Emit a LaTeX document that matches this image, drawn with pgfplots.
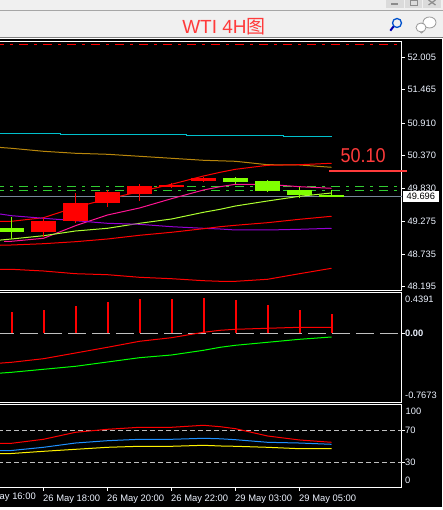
\documentclass[border=0pt]{standalone}
\usepackage{fontspec}
\setmainfont{Liberation Sans}
\newfontfamily\cjk{Noto Sans CJK SC}
\usepackage{pgfplots}
\pgfplotsset{compat=1.18}
\definecolor{lbl}{HTML}{EEF4FF}
\definecolor{chrome}{HTML}{F0F0F0}
\definecolor{ttl}{HTML}{FF3B3B}
\definecolor{cyanl}{HTML}{00C0CC}
\definecolor{gold}{HTML}{B8860B}
\definecolor{pinkl}{HTML}{FF1493}
\definecolor{lime}{HTML}{ADFF2F}
\definecolor{bull}{HTML}{7FFF00}
\definecolor{viol}{HTML}{9400D3}
\definecolor{slate}{HTML}{778899}
\definecolor{dashg}{HTML}{32CD32}
\definecolor{dodger}{HTML}{1E90FF}
\pgfplotsset{mt/.style={
  scale only axis, width=403.5pt, xmin=-0.4219, xmax=12.1875,
  axis line style={white,line width=0.9pt}, tick style={white,line width=0.9pt},
  major tick length=3.5pt, tick align=outside,
  ytick pos=right, yticklabel pos=right, xtick pos=bottom, xticklabel pos=bottom,
  xtick=\empty,
  tick label style={font=\fontsize{9.3}{10}\selectfont, text=lbl},
  yticklabel style={anchor=west, inner sep=0pt},
}}
\newcommand{\candle}[6]{%
  \addplot[#6,line width=1pt] coordinates {(#1,#2)(#1,#5)};
  \addplot[#6,line width=25pt] coordinates {(#1,#3)(#1,#4)};
}
\begin{document}
\begin{tikzpicture}
\path[use as bounding box] (0,0) rectangle (443pt,510pt);
\clip (0,0) rectangle (443pt,510pt);
\fill[white] (0,0) rectangle (443pt,510pt);
% window chrome
\fill[chrome] (0,472pt) rectangle (443pt,510pt);
\fill[gray!70] (0,499pt) rectangle (443pt,500pt);
\fill[gray] (0,471.5pt) rectangle (443pt,473pt);
\fill[black] (0,2.5pt) rectangle (441.5pt,470.8pt);
\fill[black!14] (386pt,501.5pt) rectangle (404pt,510pt);
\fill[black!14] (405pt,501.5pt) rectangle (422pt,510pt);
\fill[black!14] (423pt,501.5pt) rectangle (441pt,510pt);
\fill[gray!90] (391pt,505pt) rectangle (398pt,506.5pt);
\draw[gray!90,line width=0.8pt] (410pt,505pt) rectangle (417pt,509.5pt);
\draw[gray!90,line width=1.2pt] (428.5pt,505pt) -- (435.5pt,510pt) (435.5pt,505pt) -- (428.5pt,510pt);
% icons
\draw[blue!60!cyan!80!black,line width=1.3pt] (397pt,487pt) circle (4.5pt);
\draw[blue!70!black,line width=2pt] (393.6pt,483.6pt) -- (390.3pt,479.3pt);
\filldraw[fill=white,draw=gray!80,line width=0.8pt] (429.5pt,487.5pt) ellipse (6.5pt and 5.5pt);
\filldraw[fill=white,draw=gray!80,line width=0.8pt] (421pt,482.5pt) ellipse (5pt and 4.5pt);
\draw[gray!80,line width=0.8pt] (420.5pt,478pt) -- (421.5pt,477pt) -- (423.5pt,478.5pt);
\node[text=ttl,font=\fontsize{19}{20}\selectfont,inner sep=0pt] at (224pt,483pt) {WTI 4H{\cjk 图}};

% ---------- main price panel
\begin{axis}[mt, at={(-2pt,220pt)}, anchor=south west, height=248.5pt,
  ymin=48.1403, ymax=52.2621, clip=false,
  ytick={48.195,48.735,49.275,49.830,50.370,50.910,51.465,52.005},
  yticklabels={48.195,48.735,49.275,49.830,50.370,50.910,51.465,52.005},
  yticklabel style={xshift=2.3pt}]
% level lines
\addplot[red,line width=1pt,dash pattern=on 9pt off 6pt on 3.3pt off 5.7pt,dash phase=3pt] coordinates {(-0.4219,52.2135)(12.04,52.2135)};
\addplot[dashg,line width=1pt,dash pattern=on 9pt off 6pt on 3.3pt off 5.7pt,dash phase=3pt] coordinates {(-0.4219,49.8537)(12.04,49.8537)};
\addplot[dashg,line width=1pt,dash pattern=on 9pt off 6pt on 3.3pt off 5.7pt,dash phase=3pt] coordinates {(-0.4219,49.7940)(12.04,49.7940)};
\addplot[slate,line width=1pt] coordinates {(-0.4219,49.696)(12.1875,49.696)};
% cyan
\addplot[cyanl,line width=1pt] coordinates {(-0.4219,50.7395)(1.52,50.7395)(1.52,50.7229)(5.48,50.7229)(5.48,50.7063)(8.5,50.7063)(8.5,50.6897)(10,50.6897)};
% gold
\addplot[gold,line width=1pt] coordinates {(-0.4219,50.5072)(0,50.4906)(1,50.4409)(2,50.4077)(3,50.3911)(4,50.3580)(5,50.3248)(6,50.2916)(7,50.2750)(8,50.2186)(9,50.2136)(10,50.1755)};
% red MA
\addplot[red,line width=1pt] coordinates {(-0.4219,49.2798)(0,49.2798)(1,49.3395)(2,49.5120)(3,49.6497)(4,49.7708)(5,49.8935)(6,50.0312)(6.52,50.0926)(7,50.1423)(8,50.2087)(9,50.2186)(10,50.2419)};
% pink
\addplot[pinkl,line width=1pt] coordinates {(-0.23,48.9481)(0,48.9481)(1,48.9978)(2,49.2068)(3,49.3843)(4,49.5004)(5,49.6547)(6,49.7990)(6.52,49.8537)(7,49.8935)(8,49.8935)(9,49.8537)(10,49.8272)};
% lime
\addplot[lime,line width=1pt] coordinates {(-0.4219,48.9646)(0,48.9862)(1,49.0409)(2,49.1189)(3,49.1637)(4,49.2466)(5,49.3179)(6,49.4291)(6.52,49.4788)(7,49.5336)(8,49.6165)(9,49.6945)(10,49.7492)};
% violet
\addplot[viol,line width=1pt] coordinates {(-0.4219,49.4059)(0,49.3727)(1,49.3296)(2,49.2897)(3,49.2466)(4,49.2300)(5,49.1902)(6,49.1637)(6.52,49.1521)(7,49.1355)(8,49.1355)(9,49.1471)(10,49.1637)};
% band
\addplot[red,line width=1pt] coordinates {(-0.4219,48.8817)(0,48.8867)(1,48.9082)(2,48.9414)(3,48.9862)(4,49.0476)(5,49.0973)(6,49.1570)(6.52,49.1902)(7,49.2135)(8,49.2566)(9,49.3130)(10,49.3627)};
% lower band
\addplot[red,line width=1pt] coordinates {(-0.4219,48.4836)(0,48.4836)(1,48.4554)(2,48.4106)(3,48.3940)(4,48.3509)(5,48.3277)(6,48.2945)(6.52,48.2845)(7,48.2845)(8,48.3178)(9,48.4106)(10,48.5002)};
% candles: x, low, body low, body high, high
\candle{0}{48.984}{49.102}{49.169}{49.349}{bull}
\candle{1}{49.026}{49.102}{49.284}{49.334}{red}
\candle{2}{49.250}{49.284}{49.583}{49.745}{red}
\candle{3}{49.517}{49.583}{49.766}{49.799}{red}
\candle{4}{49.617}{49.733}{49.865}{49.898}{red}
\candle{5}{49.832}{49.845}{49.882}{49.915}{red}
\candle{6}{49.932}{49.948}{49.998}{50.020}{red}
\candle{7}{49.899}{49.932}{49.998}{50.020}{bull}
\candle{8}{49.766}{49.783}{49.948}{49.965}{bull}
\candle{9}{49.667}{49.716}{49.799}{49.849}{bull}
\candle{10}{49.683}{49.683}{49.721}{49.799}{bull}
% 50.10 level marker
\addplot[ttl,line width=1.8pt] coordinates {(9.922,50.119)(12.36,50.119)};
\end{axis}

% ---------- oscillator panel
\begin{axis}[mt, at={(-2pt,108pt)}, anchor=south west, height=109.3pt,
  ymin=-0.7660, ymax=0.4527,
  ytick={0}, yticklabels={\textbf{0.00}}, yticklabel style={xshift=0pt}]
\addplot[black!25,line width=1pt,dash pattern=on 18pt off 6pt,dash phase=2pt] coordinates {(-0.4219,0)(12.1875,0)};
\addplot[red,line width=1pt] coordinates {(-0.4219,-0.3345)(0,-0.3234)(1,-0.2832)(2,-0.2197)(3,-0.1561)(4,-0.0892)(5,-0.0491)(6,0.0112)(6.52,0.0335)(7,0.0446)(8,0.0558)(9,0.0669)(10,0.0669)};
\addplot[green,line width=1pt] coordinates {(-0.4219,-0.4460)(0,-0.4349)(1,-0.4014)(2,-0.3680)(3,-0.3200)(4,-0.2721)(5,-0.2420)(6,-0.1896)(6.52,-0.1561)(7,-0.1338)(8,-0.1004)(9,-0.0669)(10,-0.0413)};
\addplot[ycomb,red,line width=2pt] coordinates {(0,0.2375)(1,0.2598)(2,0.3044)(3,0.3490)(4,0.3824)(5,0.3824)(6,0.3936)(7,0.3713)(8,0.3155)(9,0.2598)(10,0.2152)};
\end{axis}
\node[anchor=west,inner sep=0pt,text=lbl,font=\fontsize{9.3}{10}\selectfont] at (405pt,210.7pt) {0.4391};
\node[anchor=west,inner sep=0pt,text=lbl,font=\fontsize{9.3}{10}\selectfont] at (405pt,114.7pt) {-0.7673};

% ---------- RSI panel
\begin{axis}[mt, at={(-2pt,22.7pt)}, anchor=south west, height=82.8pt,
  ymin=-1.25, ymax=102.25,
  ytick={30,70}, yticklabels={30,70},
  xtick={1,3,5,7,9},
  xticklabels={26 May 18:00,26 May 20:00,26 May 22:00,29 May 03:00,29 May 05:00},
  xticklabel style={font=\fontsize{9.4}{10}\selectfont, text=lbl, inner sep=0pt, anchor=north west, yshift=-3.5pt, xshift=-0.5pt},
  clip=true]
\addplot[black!25,line width=1pt,dash pattern=on 5pt off 3pt] coordinates {(-0.4219,70)(12.1875,70)};
\addplot[black!25,line width=1pt,dash pattern=on 5pt off 3pt] coordinates {(-0.4219,30)(12.1875,30)};
\addplot[red,line width=1pt] coordinates {(-0.4219,53.75)(0,53.75)(1,58.75)(2,67.5)(3,71.25)(4,73.75)(5,73.75)(6,76.25)(6.52,74.5)(7,72)(8,62.9)(9,57.9)(10,55)};
\addplot[dodger,line width=1pt] coordinates {(-0.4219,44.5)(0,44.75)(1,48.75)(2,54.1)(3,57)(4,58.75)(5,58.75)(6,60)(6.52,59.4)(7,58.25)(8,55)(9,54.1)(10,52.5)};
\addplot[yellow,line width=1pt] coordinates {(-0.4219,40.75)(0,41)(1,43.75)(2,46.25)(3,48.75)(4,50)(5,50)(6,51.25)(6.52,50.4)(7,50)(8,48.75)(9,47)(10,47)};
\end{axis}
\node[anchor=west,inner sep=0pt,text=lbl,font=\fontsize{9.3}{10}\selectfont] at (405.5pt,98.7pt) {100};
\node[anchor=west,inner sep=0pt,text=lbl,font=\fontsize{9.3}{10}\selectfont] at (405pt,29.7pt) {0};
\node[anchor=east,inner sep=0pt,text=lbl,font=\fontsize{9.4}{10}\selectfont] at (36pt,13.3pt) {26 May 16:00};

% price box and annotation
\fill[white] (402.7pt,308pt) rectangle (439pt,319pt);
\node[text=black,inner sep=0pt,font=\fontsize{9.3}{10}\selectfont] at (420.8pt,313.5pt) {49.696};
\node[text=ttl,inner sep=0pt] at (363.2pt,354pt) {\scalebox{0.9}[1]{\fontsize{20}{22}\selectfont 50.10}};
\end{tikzpicture}
\end{document}
